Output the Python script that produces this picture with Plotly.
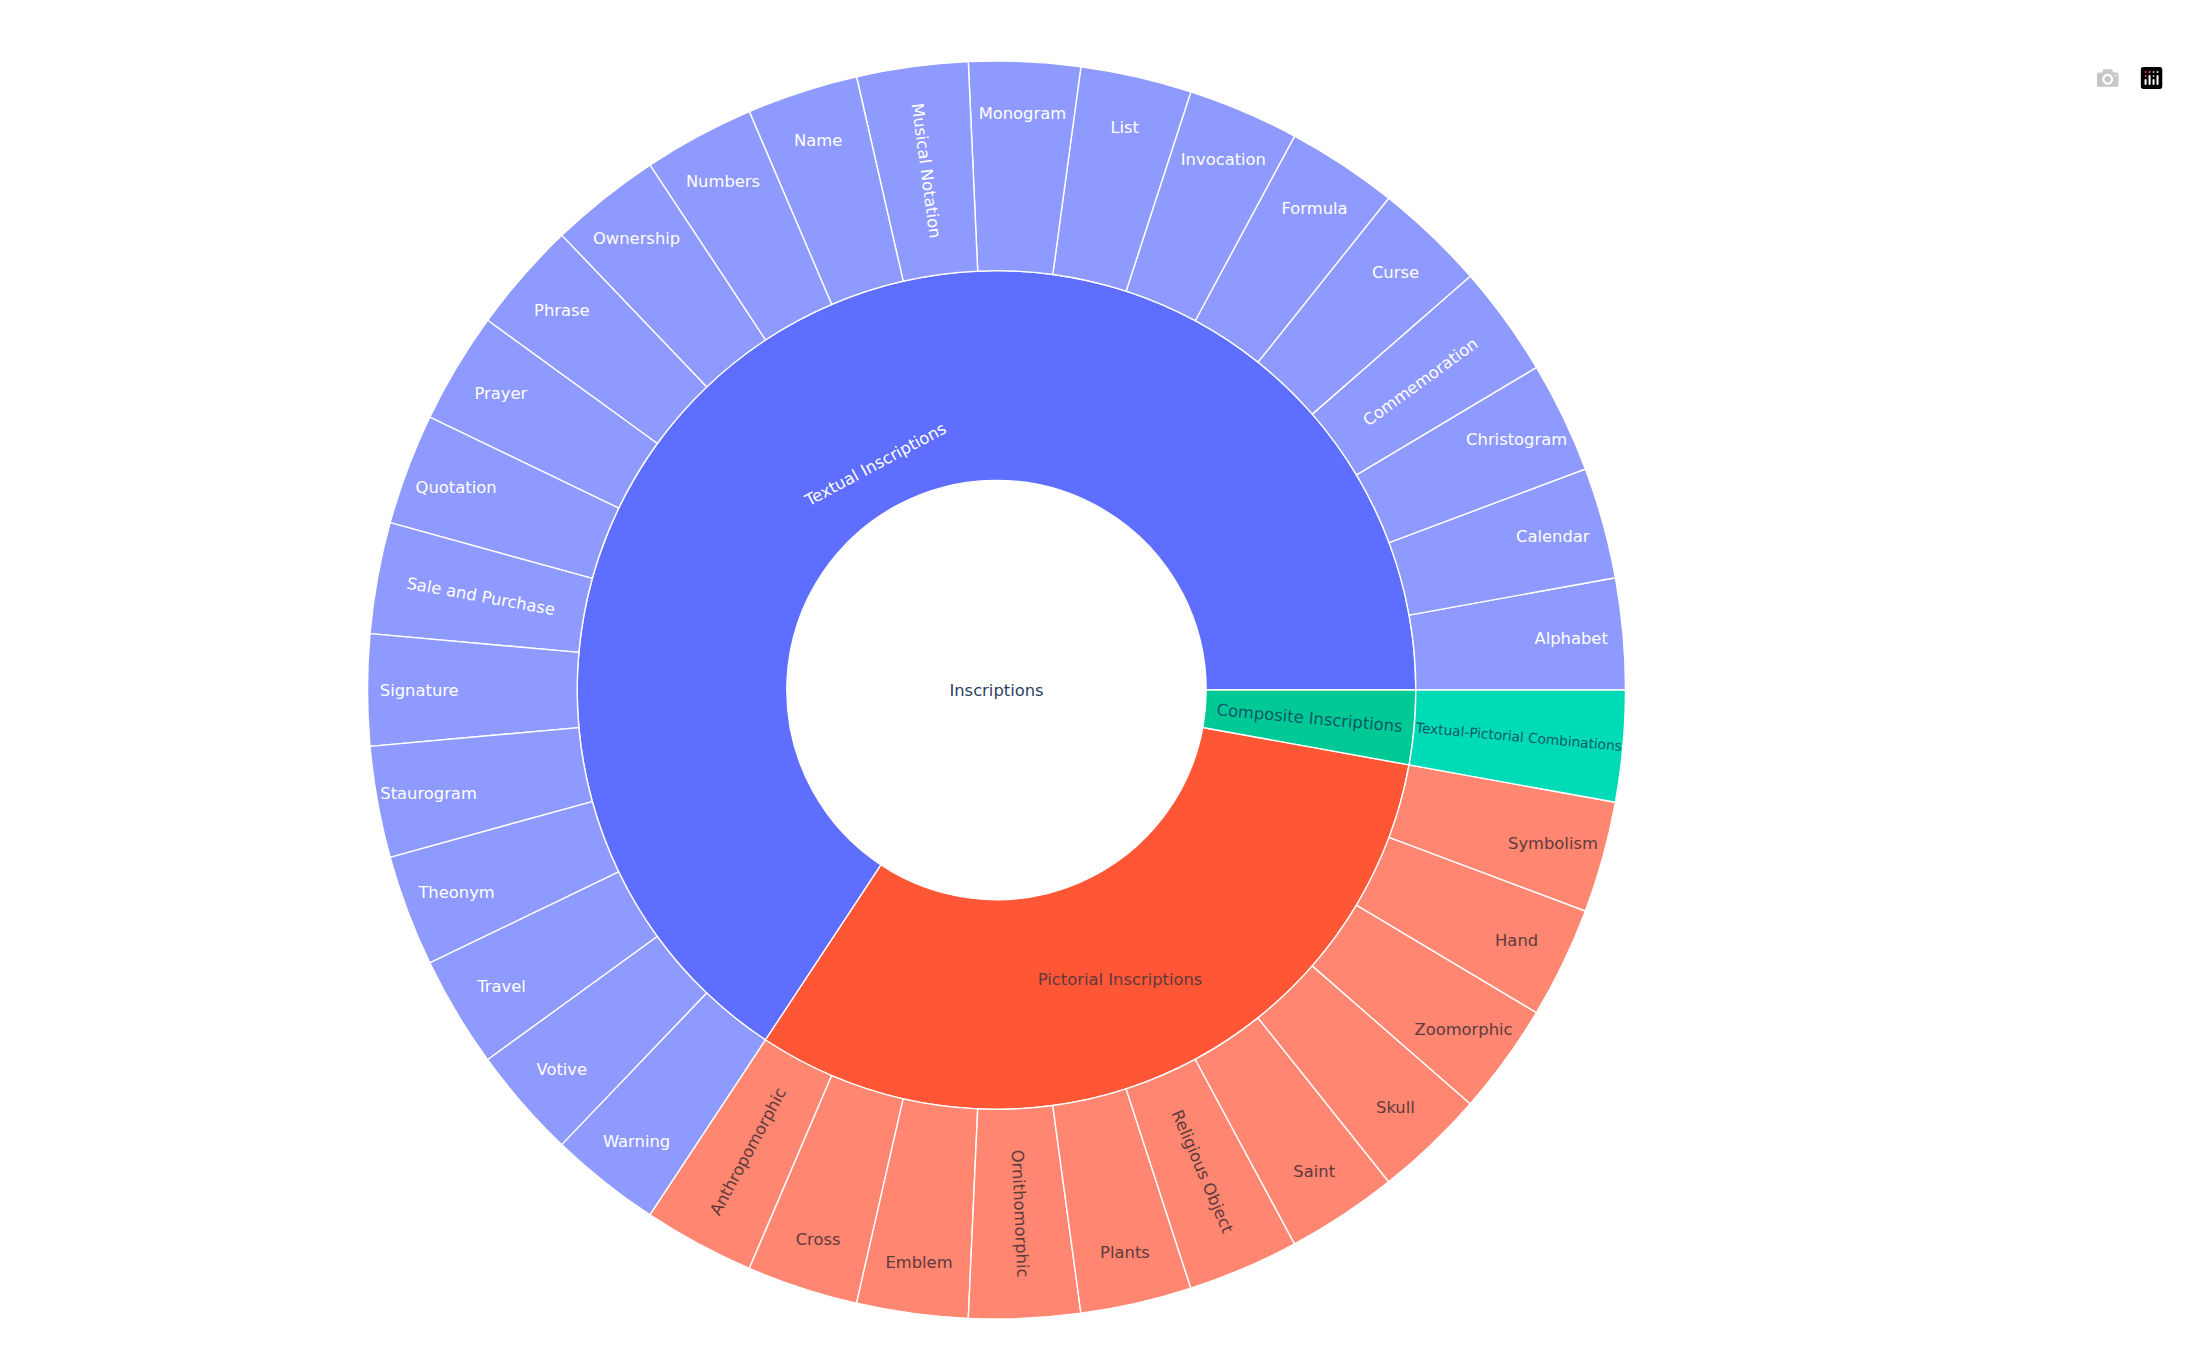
import plotly.graph_objects as go

root = 'Inscriptions'

textual = ['Alphabet', 'Calendar', 'Christogram', 'Commemoration', 'Curse', 'Formula',
           'Invocation', 'List', 'Monogram', 'Musical Notation', 'Name', 'Numbers',
           'Ownership', 'Phrase', 'Prayer', 'Quotation', 'Sale and Purchase', 'Signature',
           'Staurogram', 'Theonym', 'Travel', 'Votive', 'Warning']
pictorial = ['Anthropomorphic', 'Cross', 'Emblem', 'Ornithomorphic', 'Plants',
             'Religious Object', 'Saint', 'Skull', 'Zoomorphic', 'Hand', 'Symbolism']
composite = ['Textual-Pictorial Combinations']

# every leaf has the same weight
textual_values = [1] * len(textual)
pictorial_values = [1] * len(pictorial)
composite_values = [1] * len(composite)

# colours: ring 1 is the saturated one, leaves are lighter
textual_color, textual_leaf = '#5E6EFF', '#8F9AFF'
pictorial_color, pictorial_leaf = '#FF5636', '#FF8670'
composite_color, composite_leaf = '#00C996', '#00DBB7'
root_text, light_text = '#2a3f5f', 'white'
pictorial_text, composite_text = '#5E3A3C', '#0E5A66'

labels = [root, 'Textual Inscriptions', 'Pictorial Inscriptions', 'Composite Inscriptions']
labels += textual + pictorial + composite
parents = ['', root, root, root]
parents += ['Textual Inscriptions'] * len(textual)
parents += ['Pictorial Inscriptions'] * len(pictorial)
parents += ['Composite Inscriptions'] * len(composite)
values = [sum(textual_values) + sum(pictorial_values) + sum(composite_values),
          sum(textual_values), sum(pictorial_values), sum(composite_values)]
values += textual_values + pictorial_values + composite_values
colors = ['white', textual_color, pictorial_color, composite_color]
colors += [textual_leaf] * len(textual)
colors += [pictorial_leaf] * len(pictorial)
colors += [composite_leaf] * len(composite)
text_colors = [root_text, light_text, pictorial_text, composite_text]
text_colors += [light_text] * len(textual)
text_colors += [pictorial_text] * len(pictorial)
text_colors += [composite_text] * len(composite)

fig = go.Figure(go.Sunburst(
    labels=labels,
    parents=parents,
    values=values,
    branchvalues='total',
    leaf=dict(opacity=1),
    marker=dict(colors=colors, line=dict(color='white', width=1.4)),
    textfont=dict(size=16.35, color=text_colors),
    insidetextfont=dict(size=16.35, color=text_colors),
))

fig.update_layout(
    width=2186,
    height=1335,
    margin=dict(l=0, r=209, t=53, b=24),
    font=dict(family='"DejaVu Sans", verdana, arial, sans-serif'),
    paper_bgcolor='white',
)

# modebar is larger and lower in the original
post = """
var mb = document.querySelector('.modebar');
mb.style.transformOrigin = 'top right';
mb.style.transform = 'translate(-24px, 53px) scale(1.37)';
"""

fig.write_html("out.html", config={'displayModeBar': True}, post_script=post)
